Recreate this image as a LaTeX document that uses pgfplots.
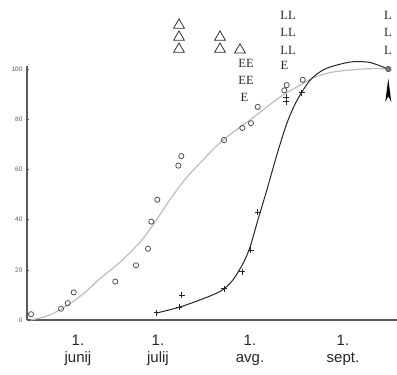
\documentclass[border=0pt]{standalone}
\usepackage{fontspec}
\setmainfont{Liberation Serif}
\setsansfont{Liberation Sans}
\usepackage{pgfplots}
\pgfplotsset{compat=1.18}
\definecolor{axisgray}{HTML}{5A5A5A}
\definecolor{fitgray}{HTML}{BDBDBD}
\definecolor{circgray}{HTML}{505050}
\begin{document}
\begin{tikzpicture}
\begin{axis}[
  at={(0,0)}, anchor=south west,
  scale only axis, width=370pt, height=254pt,
  xmin=27, xmax=397, ymin=0, ymax=101.2,
  clip=false,
  axis x line*=bottom, axis y line*=left,
  axis line style={-, draw=axisgray, line width=1.3pt},
  ytick={0,20,40,60,80,100},
  yticklabel style={font=\sffamily\fontsize{6.5}{7}\selectfont, text=axisgray, xshift=-1pt},
  /pgf/number format/assume math mode=true,
  tick align=inside, major tick length=2pt,
  y tick style={draw=axisgray, line width=0.6pt},
  xtick={78,158,250,343},
  xticklabels={{1.\\junij},{1.\\julij},{1.\\avg.},{1.\\sept.}},
  xticklabel style={align=center, font=\sffamily\fontsize{15}{16.5}\selectfont, text=black!85, yshift=-12pt},
  x tick style={draw=none},
]
% fitted curve through circles (light gray)
\addplot[smooth, color=fitgray, line width=1.2pt] coordinates {
 (31,0) (50,2) (70,6.5) (85,11) (100,16.5) (120,23) (140,31) (155,39) (170,48) (185,56)
 (200,62.5) (223,71.7) (250,79.7) (280,88.8) (302,94.0) (315,96.8) (333,98.8) (356,99.8) (375,100.2) (388,100)};
% fitted curve through crosses (black)
\addplot[smooth, color=black!85, line width=1.0pt] coordinates {
 (157,2.8) (180,5.2) (200,8.0) (215,10.4) (224,12.4) (233,16) (243,22.5) (250,29) (258,40) (267,52)
 (277,66) (287,78.5) (297,87.5) (310,95.5) (323,99.6) (337,101.6) (353,102.9) (370,102.6) (388,100)};
% circles
\addplot[only marks, mark=o, mark size=2.6pt, mark options={draw=circgray, line width=0.8pt}] coordinates {
 (31,2.3) (61,4.5) (67.7,6.7) (73.7,11.0) (115.3,15.3) (136,21.8) (148,28.4) (151.3,39.2) (157.3,47.9)
 (178.3,61.5) (181.3,65.3) (224,71.7) (242.3,76.5) (251,78.4) (257.7,84.9) (284.3,91.5) (286.7,93.6) (302.7,95.7)};
% end point
\addplot[only marks, mark=*, mark size=2.6pt, mark options={draw=circgray, fill=gray, line width=0.8pt}] coordinates {(388.3,100)};
% crosses
\addplot[only marks, mark=+, mark size=3pt, mark options={draw=black!85, line width=0.8pt}] coordinates {
 (156.7,2.9) (179.3,5.2) (181.7,9.8) (224.3,12.4) (242,19.2) (250.7,27.8) (257.7,43.0) (286,88.8) (286,86.9) (301.7,90.6)};
% triangles
\addplot[only marks, mark=triangle, mark size=6.2pt, mark options={draw=black!80, line width=0.8pt}] coordinates {
 (179,117.5) (179,112.7) (179,107.9) (220,112.7) (220,107.9) (240,107.6)};
% arrowhead
\fill[black] (axis cs:388.3,96.2) -- (axis cs:385.3,86.8) -- (axis cs:388.3,89.2) -- (axis cs:391.3,86.8) -- cycle;
% letters
\begin{scope}[every node/.style={font=\fontsize{12.5}{12.5}\selectfont, text=black!85, inner sep=0pt}]
\node at (axis cs:246,102.3) {EE};
\node at (axis cs:246,95.3) {EE};
\node[anchor=west] at (axis cs:240.5,88.7) {E};
\node at (axis cs:288,121.5) {LL};
\node at (axis cs:288,114.5) {LL};
\node at (axis cs:288,107.6) {LL};
\node[anchor=west] at (axis cs:280.5,101.6) {E};
\node at (axis cs:388,121.5) {L};
\node at (axis cs:388,114.5) {L};
\node at (axis cs:388,107.6) {L};
\end{scope}
\end{axis}
\pgfresetboundingbox
\path[use as bounding box] (-27pt,-55pt) rectangle (370pt,320pt);
\end{tikzpicture}
\end{document}
